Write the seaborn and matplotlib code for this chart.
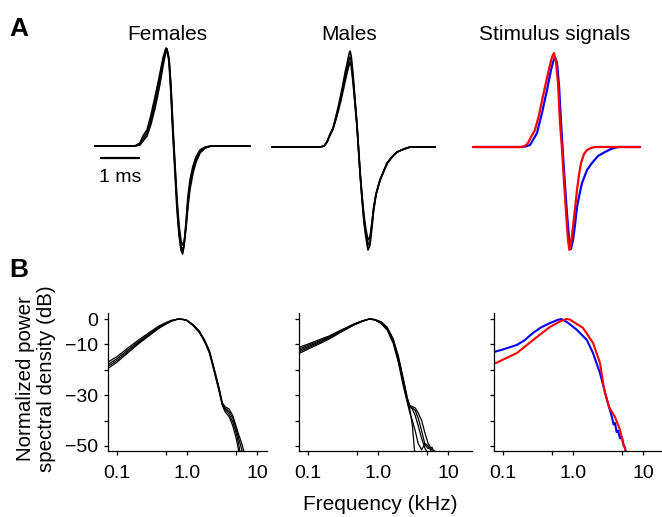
import numpy as np
import matplotlib
matplotlib.use("Agg")
import matplotlib.pyplot as plt
import seaborn as sns

# ---- panel A: waveforms (time in ms, amplitude normalised) ----
female_t = [0, 1.0, 1.125, 1.2, 1.3, 1.4, 1.5, 1.575, 1.65, 1.7, 1.75, 1.775, 1.8, 1.85, 1.9, 1.95,
            2.0, 2.05, 2.1, 2.15, 2.19, 2.225, 2.275, 2.325, 2.375, 2.45, 2.525, 2.625, 2.75, 2.9, 3.875]
female_1 = [0, 0, 0.03, 0.10, 0.16, 0.31, 0.49, 0.63, 0.78, 0.88, 0.95, 0.98, 0.97, 0.84, 0.51, 0.09,
            -0.27, -0.64, -0.89, -1.04, -1.08, -1.00, -0.76, -0.50, -0.34, -0.20, -0.11, -0.04, -0.01, 0, 0]
female_2 = [0, 0, 0.02, 0.07, 0.13, 0.26, 0.43, 0.57, 0.73, 0.84, 0.93, 0.97, 0.97, 0.87, 0.56, 0.14,
            -0.22, -0.58, -0.84, -1.00, -1.04, -1.00, -0.80, -0.55, -0.39, -0.24, -0.14, -0.06, -0.02, 0, 0]
female_3 = [0, 0, 0.01, 0.05, 0.10, 0.22, 0.38, 0.52, 0.68, 0.80, 0.90, 0.94, 0.95, 0.88, 0.60, 0.18,
            -0.18, -0.53, -0.79, -0.95, -0.99, -0.97, -0.82, -0.60, -0.43, -0.27, -0.16, -0.07, -0.02, 0, 0]

male_t = [0, 1.2, 1.3, 1.375, 1.45, 1.525, 1.6, 1.65, 1.725, 1.775, 1.825, 1.875, 1.92, 1.95, 1.98,
          2.025, 2.075, 2.125, 2.16, 2.2, 2.25, 2.3, 2.35, 2.4, 2.45, 2.5, 2.54, 2.6, 2.7, 2.875,
          3.0, 3.125, 3.3, 3.45, 4.075]
male_1 = [0, 0, 0.01, 0.05, 0.13, 0.19, 0.31, 0.39, 0.53, 0.63, 0.74, 0.83, 0.92, 0.96, 0.91,
          0.73, 0.48, 0.23, 0, -0.26, -0.53, -0.76, -0.91, -1.03, -0.98, -0.80, -0.64, -0.48, -0.33, -0.16,
          -0.10, -0.05, -0.02, 0, 0]
male_2 = [0, 0, 0.01, 0.05, 0.12, 0.18, 0.29, 0.37, 0.50, 0.59, 0.69, 0.78, 0.86, 0.90, 0.86,
          0.69, 0.45, 0.21, 0, -0.25, -0.50, -0.72, -0.87, -0.98, -0.94, -0.77, -0.62, -0.47, -0.33, -0.16,
          -0.10, -0.05, -0.02, 0, 0]
male_3 = [0, 0, 0.01, 0.05, 0.12, 0.18, 0.28, 0.35, 0.47, 0.56, 0.65, 0.74, 0.81, 0.85, 0.81,
          0.65, 0.43, 0.20, 0, -0.24, -0.48, -0.69, -0.83, -0.93, -0.90, -0.75, -0.61, -0.47, -0.33, -0.17,
          -0.10, -0.05, -0.02, 0, 0]

stim_red_t = [0, 1.2, 1.3, 1.375, 1.45, 1.55, 1.65, 1.75, 1.85, 1.925, 1.975, 2.025, 2.075, 2.125, 2.175,
              2.225, 2.275, 2.325, 2.375, 2.41, 2.45, 2.5, 2.55, 2.6, 2.65, 2.7, 2.775, 2.85, 2.95, 3.05, 4.175]
stim_red = [0, 0, 0.01, 0.04, 0.10, 0.17, 0.32, 0.51, 0.69, 0.82, 0.90, 0.94, 0.85, 0.64, 0.24,
            -0.02, -0.35, -0.65, -0.93, -1.03, -0.97, -0.80, -0.62, -0.43, -0.28, -0.16, -0.07, -0.03, -0.01, 0, 0]
stim_blue_t = [0, 1.25, 1.35, 1.425, 1.5, 1.6, 1.725, 1.85, 1.95, 2.0, 2.05, 2.1, 2.15, 2.2, 2.25, 2.3,
               2.35, 2.4, 2.45, 2.5, 2.55, 2.6, 2.675, 2.725, 2.85, 2.975, 3.125, 3.3, 3.45, 3.625, 4.175]
stim_blue = [0, 0, 0.01, 0.02, 0.07, 0.14, 0.34, 0.57, 0.77, 0.85, 0.90, 0.84, 0.62, 0.25, -0.08, -0.38,
             -0.67, -0.90, -1.02, -0.93, -0.78, -0.60, -0.45, -0.36, -0.23, -0.16, -0.09, -0.05, -0.02, 0, 0]

# ---- panel B: power spectra (kHz, dB) ----
female_freq = [0.074, 0.1, 0.15, 0.2, 0.3, 0.4, 0.5, 0.6, 0.75, 0.9, 1.0, 1.2, 1.5, 1.8, 2.1, 2.5, 2.9,
               3.2, 3.5, 4.0, 4.5, 5.0, 5.4, 5.8, 6.2, 6.7]
female_psd = [
    [-17, -14.8, -11.0, -8.4, -5.0, -2.7, -1.4, -0.5, 0, -0.2, -0.5, -2.0, -4.7, -8.4, -12.6, -20.5, -27.5,
     -33.0, -34.5, -35.5, -38.0, -42.0, -45.0, -47.5, -50.0, -53.5],
    [-18, -15.6, -11.7, -9.0, -5.5, -3.1, -1.7, -0.7, 0, -0.2, -0.6, -2.2, -5.0, -8.8, -13.0, -21.0, -28.0,
     -33.5, -35.5, -37.5, -40.5, -44.5, -48.5, -53.0, -60, -60],
    [-18.8, -16.3, -12.3, -9.5, -5.9, -3.4, -1.9, -0.8, 0, -0.3, -0.7, -2.4, -5.3, -9.2, -13.6, -21.8, -29.0,
     -34.0, -36.5, -38.5, -42.0, -46.5, -51.0, -58, -60, -60],
    [-19.5, -17.0, -12.8, -9.9, -6.2, -3.6, -2.0, -0.9, 0, -0.2, -0.6, -2.3, -5.1, -9.0, -13.3, -21.4, -28.5,
     -33.8, -35.0, -36.5, -39.0, -43.0, -46.5, -49.5, -52.5, -60],
]

male_freq = [0.074, 0.1, 0.15, 0.2, 0.3, 0.45, 0.6, 0.75, 0.9, 1.1, 1.35, 1.65, 1.95, 2.3, 2.6, 2.85, 3.1,
             3.4, 3.75, 4.2, 4.7, 5.2, 5.9, 6.5, 7.2]
male_psd = [
    [-11.2, -9.9, -8.0, -6.7, -4.3, -2.0, -0.7, 0, -0.2, -1.1, -3.2, -7.8, -14.5, -23.5, -30.5, -35.5, -42,
     -55, -60, -60, -60, -60, -60, -60, -60],
    [-11.8, -10.4, -8.4, -7.0, -4.5, -2.1, -0.8, 0, -0.2, -1.2, -3.4, -8.2, -15.0, -24.0, -31.0, -34.5, -35.5,
     -38.0, -42.0, -47.0, -51.0, -53.0, -60, -60, -60],
    [-12.4, -10.9, -8.8, -7.3, -4.7, -2.2, -0.8, 0, -0.3, -1.4, -3.7, -8.6, -15.6, -24.6, -31.2, -34.0, -34.5,
     -35.0, -37.0, -40.0, -45.0, -49.0, -51.5, -52.0, -55.0],
    [-13.0, -11.4, -9.2, -7.6, -4.9, -2.3, -0.9, 0, -0.3, -1.5, -3.9, -9.0, -16.2, -25.3, -31.8, -34.5, -35.0,
     -36.0, -39.0, -44.0, -49.5, -51.0, -50.5, -53.0, -60],
    [-13.6, -11.9, -9.6, -7.9, -5.1, -2.4, -0.9, 0, -0.4, -1.7, -4.3, -9.6, -17.0, -26.5, -32.5, -37.0, -40.0,
     -44.0, -49.0, -51.5, -49.0, -50.0, -52.5, -56.0, -60],
]

stim_blue_freq = [0.074, 0.1, 0.158, 0.2, 0.268, 0.35, 0.469, 0.6, 0.68, 0.82, 1.14, 1.58, 1.93, 2.43,
                  3.06, 3.6, 3.8, 3.98, 4.2, 4.4, 4.7, 5.0, 5.3, 5.54, 5.8]
stim_blue_psd = [-13, -12, -10.2, -8.5, -5.5, -3.3, -1.6, -0.4, 0, -1.2, -4.3, -8.3, -13.4, -21.3,
                 -31.9, -38.6, -41.5, -41.0, -44.5, -44.0, -47.0, -46.5, -50.0, -50.5, -54]
stim_red_freq = [0.074, 0.1, 0.158, 0.268, 0.469, 0.65, 0.8, 0.9, 1.39, 1.93, 2.43, 2.8, 3.27, 3.98,
                 4.7, 5.18, 5.5, 5.7]
stim_red_psd = [-17.7, -16.0, -13.4, -8.3, -3.1, -1.0, 0, -0.2, -3.5, -9.4, -17.3, -28, -34.6, -38.6,
                -43.7, -48.8, -50.8, -53]

freq_ticks = [0.1, 0.5, 1, 5, 10]
freq_labels = ["0.1", "", "1.0", "", "10"]
db_ticks = [0, -10, -20, -30, -40, -50]
db_labels = ["0", "\u221210", "", "\u221230", "", "\u221250"]
scale_bar_ms = 1.0

sns.set_style("ticks")
plt.rcParams["font.family"] = ["Liberation Sans", "DejaVu Sans"]
plt.rcParams.update({"axes.linewidth": 0.9, "text.color": "black", "axes.labelcolor": "black",
                     "xtick.color": "black", "ytick.color": "black", "axes.edgecolor": "black",
                     "lines.solid_joinstyle": "round"})

W, H = 662, 517
fig = plt.figure(figsize=(W / 100, H / 100), dpi=100)


def px_axes(left, top, width, height):
    return fig.add_axes([left / W, 1 - (top + height) / H, width / W, height / H])


# waveform axes: 40 px per ms, 100 px per unit amplitude
def wave_axes(start_px, base_px):
    ax = px_axes(start_px - 5, 40, 180, 225)
    ax.set_xlim(-5 / 40, 175 / 40)
    ax.set_ylim(-(265 - base_px) / 100, (base_px - 40) / 100)
    ax.axis("off")
    return ax


axf = wave_axes(95, 146)
for amp in (female_1, female_2, female_3):
    sns.lineplot(x=female_t, y=amp, ax=axf, color="black", lw=1.2, estimator=None, sort=False)
axf.plot([0.125, 0.125 + scale_bar_ms], [-0.12, -0.12], color="black", lw=1.6, solid_capstyle="butt")
axf.text(0.625, -0.36, "1 ms", ha="center", va="baseline", fontsize=14)

axm = wave_axes(272, 147)
for amp in (male_1, male_2, male_3):
    sns.lineplot(x=male_t, y=amp, ax=axm, color="black", lw=1.2, estimator=None, sort=False)

axs = wave_axes(473, 147)
sns.lineplot(x=stim_blue_t, y=stim_blue, ax=axs, color="#0000ff", lw=1.6, estimator=None, sort=False)
sns.lineplot(x=stim_red_t, y=stim_red, ax=axs, color="#ff0000", lw=1.6, estimator=None, sort=False)

# spectra axes: 70 px per decade, 0.1 kHz 9 px right of the spine
ylim = ((319 - 451) / 2.54, (319 - 313) / 2.54)


def spec_axes(left, width, first):
    ax = px_axes(left, 313, width, 138)
    ax.set_xscale("log")
    ax.set_xlim(10 ** (-1 - 9 / 70), 10 ** (-1 + (width - 9) / 70))
    ax.set_ylim(*ylim)
    ax.set_xticks(freq_ticks)
    ax.set_xticklabels(freq_labels)
    ax.xaxis.set_minor_locator(matplotlib.ticker.NullLocator())
    ax.set_yticks(db_ticks)
    ax.set_yticklabels(db_labels if first else [])
    ax.tick_params(direction="out", length=3, width=0.9, labelsize=14, colors="black")
    ax.tick_params(axis="x", pad=7)
    ax.tick_params(axis="y", pad=4)
    sns.despine(ax=ax)
    return ax


ax1 = spec_axes(108, 159, True)
for psd in female_psd:
    sns.lineplot(x=female_freq, y=psd, ax=ax1, color="black", lw=0.9, estimator=None, sort=False)

ax2 = spec_axes(299, 173, False)
for psd in male_psd:
    sns.lineplot(x=male_freq, y=psd, ax=ax2, color="black", lw=0.9, estimator=None, sort=False)

ax3 = spec_axes(494, 175, False)
sns.lineplot(x=stim_blue_freq, y=stim_blue_psd, ax=ax3, color="#0000ff", lw=1.5, estimator=None, sort=False)
sns.lineplot(x=stim_red_freq, y=stim_red_psd, ax=ax3, color="#ff0000", lw=1.5, estimator=None, sort=False)

for ax in (ax1, ax2, ax3):
    ax.set_xlabel("")
    ax.set_ylabel("")

# texts
def ftext(x, y, s, **kw):
    fig.text(x / W, 1 - y / H, s, **kw)


ftext(167, 39.5, "Females", ha="center", va="baseline", fontsize=15)
ftext(349, 39.5, "Males", ha="center", va="baseline", fontsize=15)
ftext(555, 39.5, "Stimulus signals", ha="center", va="baseline", fontsize=15)
ftext(9, 36, "A", ha="left", va="baseline", fontsize=19, fontweight="bold")
ftext(9, 277, "B", ha="left", va="baseline", fontsize=19, fontweight="bold")
ftext(36, 379, "Normalized power\nspectral density (dB)", ha="center", va="center", rotation=90,
      fontsize=14.8, linespacing=1.12)
ftext(380, 505, "Frequency (kHz)", ha="center", va="center", fontsize=15)

fig.savefig("out.png", dpi=100)
